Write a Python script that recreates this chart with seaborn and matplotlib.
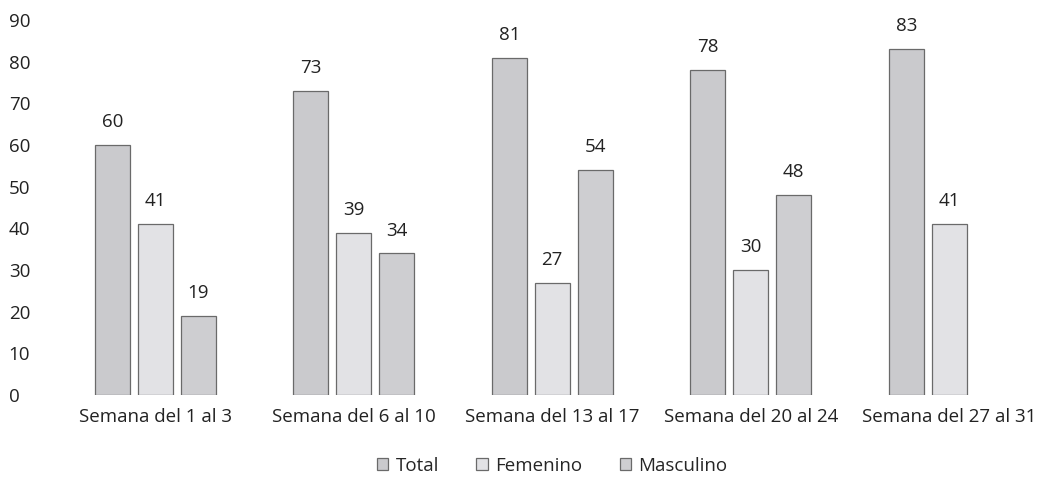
import numpy as np
import pandas as pd
import matplotlib
matplotlib.use("Agg")
import matplotlib.pyplot as plt
import seaborn as sns

# datos
SEMANAS = ["Semana del 1 al 3", "Semana del 6 al 10", "Semana del 13 al 17",
           "Semana del 20 al 24", "Semana del 27 al 31"]
TOTAL = [60, 73, 81, 78, 83]
FEMENINO = [41, 39, 27, 30, 41]
MASCULINO = [19, 34, 54, 48, np.nan]
SERIES = ["Total", "Femenino", "Masculino"]
COLORES = {"Total": "#c9c9cd", "Femenino": "#e2e2e5", "Masculino": "#cdcdd2"}

df = pd.DataFrame({
    "semana": SEMANAS * 3,
    "serie": ["Total"] * 5 + ["Femenino"] * 5 + ["Masculino"] * 5,
    "valor": TOTAL + FEMENINO + MASCULINO,
})

sns.set_theme(style="white")
plt.rcParams["font.family"] = ["Open Sans", "DejaVu Sans"]

fig = plt.figure(figsize=(10.56, 4.92), dpi=100)
ax = fig.add_axes([0.053, 0.197, 0.94, 0.762])

sns.barplot(data=df, x="semana", y="valor", hue="serie", hue_order=SERIES,
            palette=COLORES, width=0.65, gap=0.18, ax=ax,
            edgecolor="#6a6a6a", linewidth=0.9, errorbar=None)

for cont in ax.containers:
    labels = ["" if np.isnan(v) else f"{v:.0f}" for v in cont.datavalues]
    ax.bar_label(cont, labels=labels, padding=10, fontsize=13.5, color="#222222")

ax.set_ylim(0, 90)
ax.set_xlim(-0.5, 4.5)
ax.set_yticks(range(0, 91, 10))
ax.tick_params(axis="y", labelsize=13.5, length=0, pad=34, colors="#222222")
ax.tick_params(axis="x", labelsize=13.5, length=0, pad=9, colors="#222222")
for lbl in ax.get_yticklabels():
    lbl.set_horizontalalignment("left")
ax.set_xlabel("")
ax.set_ylabel("")
sns.despine(ax=ax, left=True, bottom=True)

ax.legend(loc="upper center", bbox_to_anchor=(0.5, -0.12), ncol=3,
          frameon=False, fontsize=13.5, handlelength=0.6, handleheight=0.6,
          handletextpad=0.4, columnspacing=2.0)

fig.savefig("out.png", dpi=100)
